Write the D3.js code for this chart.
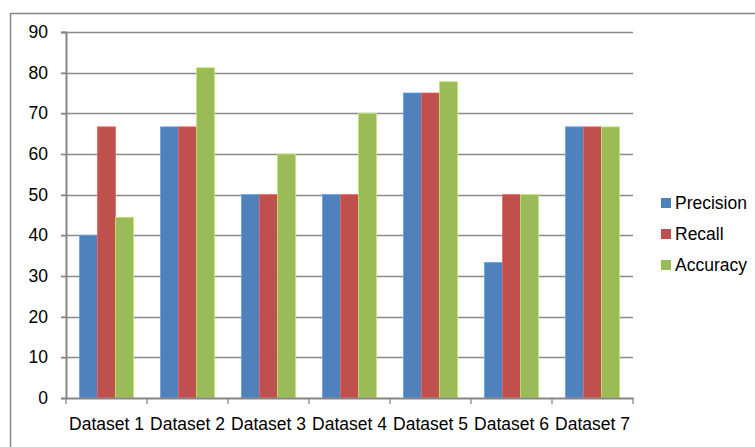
<!DOCTYPE html>
<html><head><meta charset="utf-8">
<script src="https://cdn.jsdelivr.net/npm/d3@7"></script>
<style>body{margin:0;background:#fff}svg{display:block}</style>
</head><body>
<script>
const categories = ["Dataset 1","Dataset 2","Dataset 3","Dataset 4","Dataset 5","Dataset 6","Dataset 7"];
const seriesNames = ["Precision","Recall","Accuracy"];
const precision = [40, 66.67, 50, 50, 75, 33.33, 66.67];
const recall = [66.67, 66.67, 50, 50, 75, 50, 66.67];
const accuracy = [44.44, 81.2, 60, 70, 77.78, 50, 66.67];
const yTicks = [0,10,20,30,40,50,60,70,80,90];
const colors = ["#4F81BD","#C0504D","#9BBB59"];
const values = [precision, recall, accuracy];

const W = 755, H = 447;
const svg = d3.select("body").append("svg").attr("width", W).attr("height", H);
const font = "'Liberation Sans', Arial, sans-serif";

// outer border
svg.append("path").attr("d", `M10.5,${H}V13.5H${W}`).attr("fill","none").attr("stroke","#878787").attr("stroke-width",1.5);

const x0 = 66, x1 = 633, yTop = 32, yBot = 398;
const x = d3.scaleBand().domain(categories).range([x0, x1]).paddingInner(0).paddingOuter(0);
const y = d3.scaleLinear().domain([0, 90]).range([yBot, yTop]);
const groupW = x.bandwidth() / 1.5;
const xs = d3.scaleBand().domain(seriesNames).range([0, groupW]);

// gridlines
svg.append("g").selectAll("line").data(yTicks.filter(d => d > 0)).join("line")
  .attr("x1", x0 - 5).attr("x2", x1).attr("y1", d => Math.round(y(d)) + 0.5).attr("y2", d => Math.round(y(d)) + 0.5)
  .attr("stroke", "#8a8a8a").attr("stroke-width", 1.3);

// bars
const groups = svg.append("g").selectAll("g").data(categories).join("g")
  .attr("transform", c => `translate(${x(c) + (x.bandwidth() - groupW) / 2},0)`);
groups.selectAll("rect").data((c, i) => seriesNames.map((s, j) => ({s, v: values[j][i], j}))).join("rect")
  .attr("x", d => xs(d.s)).attr("width", xs.bandwidth())
  .attr("y", d => y(d.v)).attr("height", d => yBot - y(d.v))
  .attr("fill", d => colors[d.j])
  .attr("stroke", d => d3.color(colors[d.j]).brighter(0.6)).attr("stroke-width", 0.8);

// y axis
const yAxis = d3.axisLeft(y).tickValues(yTicks).tickSize(5).tickPadding(13).tickFormat(d3.format("d"));
const gy = svg.append("g").attr("transform", `translate(${x0},0)`).call(yAxis);
gy.select(".domain").attr("stroke", "#868686").attr("stroke-width", 2);
gy.selectAll(".tick line").attr("stroke", "#868686").attr("stroke-width", 1.3);
gy.selectAll(".tick text").attr("font-family", font).attr("font-size", 17.5).attr("fill", "#000");

// x axis
const xAxis = d3.axisBottom(x).tickSize(0).tickPadding(20);
const gx = svg.append("g").attr("transform", `translate(0,${yBot})`).call(xAxis);
gx.select(".domain").attr("stroke", "#868686").attr("stroke-width", 2);
gx.selectAll(".tick text").attr("font-family", font).attr("font-size", 17.5).attr("fill", "#000");
// category boundary ticks
svg.append("g").selectAll("line").data(d3.range(categories.length + 1)).join("line")
  .attr("x1", i => x0 + i * x.bandwidth()).attr("x2", i => x0 + i * x.bandwidth())
  .attr("y1", yBot).attr("y2", yBot + 6).attr("stroke", "#868686").attr("stroke-width", 1.3);

// legend
const lg = svg.append("g").selectAll("g").data(seriesNames).join("g")
  .attr("transform", (d, i) => `translate(661,${203 + i * 31})`);
lg.append("rect").attr("x", 0).attr("y", -5).attr("width", 10).attr("height", 10).attr("fill", (d, i) => colors[i]);
lg.append("text").attr("x", 14).attr("y", 0).attr("dy", "0.35em").text(d => d)
  .attr("font-family", font).attr("font-size", 17.5).attr("fill", "#000");
</script>
</body></html>
